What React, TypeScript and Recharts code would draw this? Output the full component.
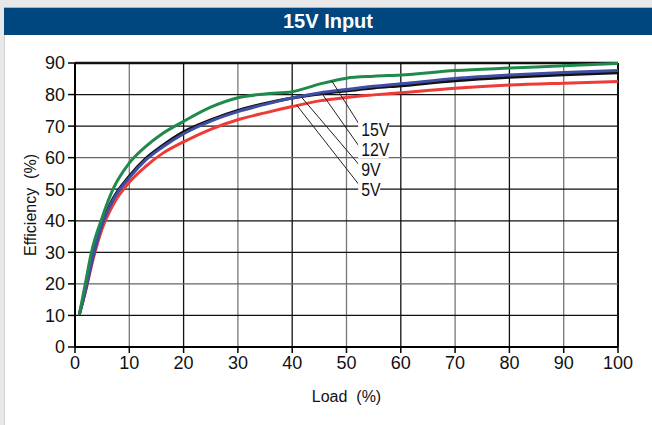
import React from 'react';
import {
  LineChart,
  Line,
  XAxis,
  YAxis,
  ReferenceLine,
  ReferenceDot,
} from 'recharts';

// load points (%) shared by all curves
const loads = [0.8, 2, 3, 5, 7, 10, 13, 16, 20, 25, 30, 35, 40, 45, 50, 55, 60, 70, 80, 90, 100];

// efficiency (%) per output voltage
const eff15V = [10.3, 21, 29.8, 41, 50, 58.3, 63.5, 67.5, 71.5, 76, 79, 80.2, 80.9, 83.3, 85.2, 85.8, 86.2, 87.6, 88.4, 89.1, 89.9];
const eff12V = [10.3, 18.5, 26.3, 38.8, 46.5, 53.6, 59.2, 63.2, 67.6, 71.6, 74.6, 76.9, 78.9, 80.5, 81.6, 82.6, 83.4, 85.1, 86.2, 87, 87.6];
const eff9V = [10.3, 18.8, 26.8, 39.2, 47, 54.1, 59.7, 63.7, 68.2, 72, 75, 77.2, 78.9, 80.2, 81.2, 82.1, 82.8, 84.4, 85.5, 86.3, 86.9];
const eff5V = [10.3, 18, 25.5, 37.5, 45, 52.2, 57.2, 61.2, 65, 69, 72, 74.2, 76.2, 78, 79.1, 79.9, 80.6, 82, 83, 83.6, 84.1];

const loadTicks = [0, 10, 20, 30, 40, 50, 60, 70, 80, 90, 100];
const effTicks = [0, 10, 20, 30, 40, 50, 60, 70, 80, 90];

// callout labels: where the leader leaves the curve and where the text sits
const calloutNames = ['15V', '12V', '9V', '5V'];
const calloutFrom = [
  { x: 47.3, y: 84.3 },
  { x: 45.4, y: 80.5 },
  { x: 41.7, y: 79.2 },
  { x: 40.8, y: 76.7 },
];
const calloutTo = [
  { x: 52.4, y: 70.4 },
  { x: 52.4, y: 63.4 },
  { x: 52.5, y: 57.4 },
  { x: 52.5, y: 51.0 },
];
const calloutText = [
  { x: 52.7, y: 69.0 },
  { x: 52.7, y: 62.7 },
  { x: 52.7, y: 56.3 },
  { x: 52.7, y: 50.0 },
];

const data = loads.map((load, i) => ({
  load,
  v15: eff15V[i],
  v12: eff12V[i],
  v9: eff9V[i],
  v5: eff5V[i],
}));

const FONT = '"Liberation Sans Narrow", "Liberation Sans", Arial, sans-serif';

const CalloutLabel = (props: any) => {
  const { cx, cy, text } = props;
  const w = text.length * 8.5 + 5;
  return (
    <g>
      <rect x={cx - 3} y={cy - 9} width={w} height={18} fill="#fff" />
      <text
        x={cx}
        y={cy}
        dy="0.36em"
        fontSize={18}
        fontFamily={FONT}
        fill="#111"
        transform={`translate(${cx} 0) scale(0.88 1) translate(${-cx} 0)`}
      >
        {text}
      </text>
    </g>
  );
};

export default function App() {
  return (
    <div
      style={{
        position: 'absolute',
        left: 0,
        top: 0,
        width: 652,
        height: 425,
        background: '#e8e8e8',
        overflow: 'hidden',
      }}
    >
      <div
        style={{
          position: 'absolute',
          left: 4,
          top: 7,
          width: 648,
          height: 28,
          background: '#00467f',
          borderTop: '1px solid #9fb3c8',
          boxSizing: 'border-box',
          color: '#fff',
          fontFamily: FONT,
          fontWeight: 'bold',
          fontSize: 20,
          lineHeight: '26px',
          textAlign: 'center',
        }}
      >
        15V Input
      </div>
      <div
        style={{
          position: 'absolute',
          left: 4,
          top: 35,
          width: 648,
          height: 390,
          background: '#fff',
          borderLeft: '1px solid #cfcfcf',
        }}
      />
      <div style={{ position: 'absolute', left: 0, top: 35 }}>
        <LineChart
          width={652}
          height={390}
          data={data}
          margin={{ top: 28, right: 34, left: 8, bottom: 48 }}
        >
          <XAxis
            dataKey="load"
            type="number"
            domain={[0, 100]}
            ticks={loadTicks}
            height={30}
            tickSize={6}
            tickMargin={3}
            axisLine={{ stroke: '#000', strokeWidth: 2 }}
            tickLine={{ stroke: '#000', strokeWidth: 1.5 }}
            tick={{ fill: '#111', fontSize: 18, fontFamily: FONT }}
            label={{
              value: 'Load\u00a0 (%)',
              position: 'bottom',
              offset: 14,
              style: { fill: '#111', fontSize: 16, fontFamily: FONT },
            }}
          />
          <YAxis
            type="number"
            domain={[0, 90]}
            ticks={effTicks}
            width={67}
            tickSize={7}
            tickMargin={3}
            axisLine={{ stroke: '#000', strokeWidth: 2 }}
            tickLine={{ stroke: '#000', strokeWidth: 1.5 }}
            tick={{ fill: '#111', fontSize: 18, fontFamily: FONT }}
            label={{
              value: 'Efficiency\u00a0 (%)',
              angle: -90,
              position: 'insideLeft',
              offset: 22,
              style: { textAnchor: 'middle', fill: '#111', fontSize: 16, fontFamily: FONT },
            }}
          />
          {loadTicks.slice(1).map((t) => (
            <ReferenceLine
              key={'vx' + t}
              x={t}
              stroke={t % 20 === 10 ? '#777' : '#111'}
              strokeWidth={t === 100 ? 2 : 1.3}
            />
          ))}
          {effTicks.slice(1).map((t) => (
            <ReferenceLine
              key={'hy' + t}
              y={t}
              stroke={t === 20 || t === 60 ? '#666' : '#111'}
              strokeWidth={t === 90 ? 2.5 : 1.3}
            />
          ))}
          <Line type="monotone" dataKey="v5" stroke="#ee3b36" strokeWidth={3} dot={false} isAnimationActive={false} />
          <Line type="monotone" dataKey="v9" stroke="#111111" strokeWidth={3} dot={false} isAnimationActive={false} />
          <Line type="monotone" dataKey="v12" stroke="#3f4ea3" strokeWidth={3} dot={false} isAnimationActive={false} />
          <Line type="monotone" dataKey="v15" stroke="#1f8a4c" strokeWidth={3} dot={false} isAnimationActive={false} />
          {calloutNames.map((name, i) => (
            <ReferenceDot
              key={'lbl' + name}
              x={calloutText[i].x}
              y={calloutText[i].y}
              ifOverflow="visible"
              shape={(p: any) => <CalloutLabel {...p} text={name} />}
            />
          ))}
          {calloutNames.map((name, i) => (
            <ReferenceLine
              key={'lead' + name}
              segment={[calloutFrom[i], calloutTo[i]]}
              stroke="#222"
              strokeWidth={1}
              ifOverflow="visible"
            />
          ))}
        </LineChart>
      </div>
    </div>
  );
}
